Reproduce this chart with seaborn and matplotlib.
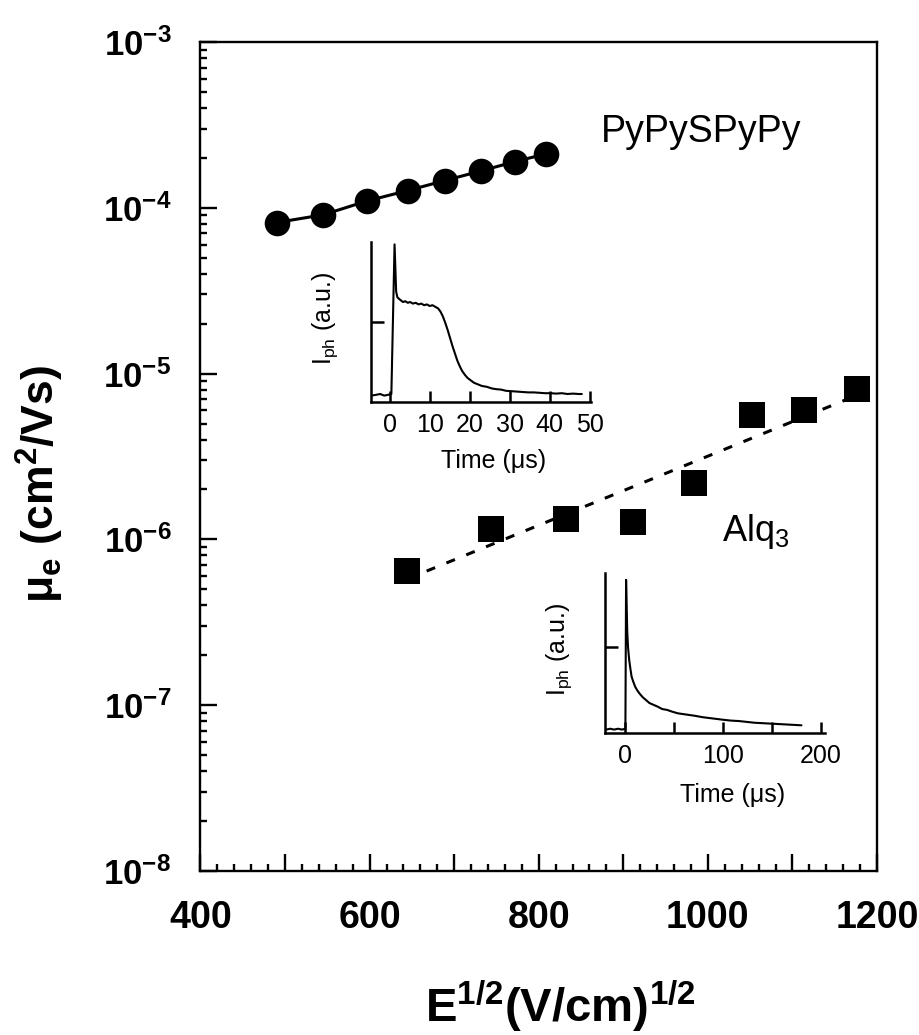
import numpy as np
import pandas as pd
import matplotlib
matplotlib.use("Agg")
import matplotlib.pyplot as plt
import seaborn as sns
from matplotlib.ticker import LogLocator, MultipleLocator, NullFormatter

# ---------------- data ----------------
# PyPySPyPy : mobility vs sqrt(E)
field_pypy = [490, 545, 597, 645, 689, 732, 772, 808]
mu_pypy = [8.15e-5, 9.07e-5, 1.10e-4, 1.27e-4, 1.46e-4, 1.67e-4, 1.90e-4, 2.11e-4]

# Alq3 : mobility vs sqrt(E)
field_alq = [644, 743, 832, 912, 984, 1052, 1114, 1176]
mu_alq = [6.49e-7, 1.16e-6, 1.33e-6, 1.28e-6, 2.20e-6, 5.62e-6, 6.0e-6, 8.07e-6]

# transient photocurrent, PyPySPyPy (inset 1)
t_pypy = [-4.7, -3.5, -2.5, -1.5, -0.5, 0.3, 1.1, 1.5, 1.8, 2.2,
          2.7, 3.2, 3.8, 4.4, 5.0, 5.7, 6.4, 7.1, 7.8, 8.5,
          9.2, 9.9, 10.6, 11.3, 12.0, 12.6, 13.2, 13.8, 14.4, 15.0,
          15.6, 16.2, 16.8, 17.4, 18.0, 18.7, 19.4, 20.2, 21.0, 22.0,
          23.0, 24.2, 25.4, 26.6, 27.8, 29.0, 30.4, 31.8, 33.2, 34.6,
          36.0, 37.4, 38.8, 40.2, 41.6, 43.0, 44.4, 45.8, 47.2, 48.0]
i_pypy = [0.08, 0.09, 0.10, 0.08, 0.09, 0.10, 1.97, 1.38, 1.31, 1.29,
          1.27, 1.25, 1.26, 1.24, 1.25, 1.23, 1.24, 1.22, 1.23, 1.21,
          1.22, 1.20, 1.21, 1.19, 1.17, 1.13, 1.07, 0.99, 0.90, 0.80,
          0.70, 0.61, 0.52, 0.45, 0.39, 0.34, 0.30, 0.27, 0.24, 0.22,
          0.20, 0.19, 0.17, 0.16, 0.155, 0.14, 0.135, 0.13, 0.125, 0.12,
          0.12, 0.115, 0.11, 0.11, 0.105, 0.11, 0.10, 0.105, 0.10, 0.10]

# transient photocurrent, Alq3 (inset 2)
t_alq = [-19, -15, -11, -7, -3, 0.5, 1.2, 2.4, 3.2, 4.4,
         5.6, 6.8, 8.5, 10.5, 12.5, 15, 18, 21, 25, 29,
         33, 38, 43, 48, 54, 60, 66, 72, 79, 86,
         93, 100, 108, 116, 124, 132, 140, 148, 156, 164,
         172, 180]
i_alq = [0.04, 0.05, 0.04, 0.05, 0.04, 0.05, 1.79, 1.18, 1.00, 0.85,
         0.75, 0.66, 0.60, 0.54, 0.50, 0.46, 0.42, 0.39, 0.35, 0.33,
         0.31, 0.28, 0.27, 0.25, 0.23, 0.22, 0.21, 0.20, 0.185, 0.175,
         0.165, 0.155, 0.145, 0.14, 0.13, 0.12, 0.115, 0.11, 0.105, 0.10,
         0.095, 0.09]

x_ticks = [400, 500, 600, 700, 800, 900, 1000, 1100, 1200]
x_ticklabels = ["400", "", "600", "", "800", "", "1000", "", "1200"]
y_ticks = [1e-8, 1e-7, 1e-6, 1e-5, 1e-4, 1e-3]
y_ticklabels = [r"$\mathbf{10^{-8}}$", r"$\mathbf{10^{-7}}$", r"$\mathbf{10^{-6}}$",
                r"$\mathbf{10^{-5}}$", r"$\mathbf{10^{-4}}$", r"$\mathbf{10^{-3}}$"]
# ----------------------------------------------------------

sns.set_style("ticks")
plt.rcParams["font.family"] = ["Liberation Sans", "DejaVu Sans"]
plt.rcParams["mathtext.fontset"] = "custom"
plt.rcParams["mathtext.rm"] = "Liberation Sans"
plt.rcParams["mathtext.it"] = "Liberation Sans:italic"
plt.rcParams["mathtext.bf"] = "Liberation Sans:bold"
for key in ("text.color", "axes.labelcolor", "xtick.color", "ytick.color", "axes.edgecolor"):
    plt.rcParams[key] = "k"

W, H = 920, 1035
fig = plt.figure(figsize=(W / 100, H / 100), dpi=100)

def px_axes(left, top, right, bottom):
    return fig.add_axes([left / W, 1 - bottom / H, (right - left) / W, (bottom - top) / H])

# ---- main plot ----
ax = px_axes(200.5, 42, 877, 871)
ax.set_yscale("log")

df_pypy = pd.DataFrame({"E": field_pypy, "mu": mu_pypy})
df_alq = pd.DataFrame({"E": field_alq, "mu": mu_alq})

sns.lineplot(data=df_pypy, x="E", y="mu", color="k", lw=2.2, ax=ax)
sns.scatterplot(data=df_pypy, x="E", y="mu", marker="o", s=340, color="k",
                linewidth=0, zorder=3, ax=ax)

# linear fit of log(mu) vs sqrt(E) for Alq3
k, b = np.polyfit(df_alq["E"], np.log10(df_alq["mu"]), 1)
fit = pd.DataFrame({"E": [df_alq["E"].min(), df_alq["E"].max()]})
fit["mu"] = 10 ** (k * fit["E"] + b)
sns.lineplot(data=fit, x="E", y="mu", color="k", lw=2.2, ax=ax)
ax.lines[-1].set_dashes((3, 4))
sns.scatterplot(data=df_alq, x="E", y="mu", marker="s", s=330, color="k",
                linewidth=0, zorder=3, ax=ax)

ax.set_xlim(400, 1200)
ax.set_ylim(1e-8, 1e-3)
ax.set_xticks(x_ticks, x_ticklabels, fontsize=27, fontweight="bold")
ax.xaxis.set_minor_locator(MultipleLocator(20))
ax.set_yticks(y_ticks, y_ticklabels, fontsize=25)
ax.yaxis.set_minor_locator(LogLocator(base=10, subs=np.arange(2, 10), numticks=30))
ax.yaxis.set_minor_formatter(NullFormatter())
ax.tick_params(which="both", direction="in", top=False, right=False, width=1.7, color="k")
ax.tick_params(which="major", length=12)
ax.tick_params(which="minor", length=5)
ax.tick_params(axis="x", which="major", pad=21)
ax.tick_params(axis="y", which="major", pad=21)
for s in ax.spines.values():
    s.set_linewidth(1.7)
    s.set_color("k")
ax.set_xlabel("")
ax.set_ylabel("")

ax.text(873, 2.5e-4, "PyPySPyPy", ha="left", va="baseline", fontsize=27)
ax.text(1017, 0.98e-6, r"Alq$_3$", ha="left", va="baseline", fontsize=26)

fig.text(40 / W, 1 - 484 / H, r"μ$_\mathbf{e}$ (cm$^\mathbf{2}$/Vs)", rotation=90,
         ha="center", va="center", fontsize=32, fontweight="bold")
fig.text(560 / W, 1 - 1006 / H, r"E$^\mathbf{1/2}$(V/cm)$^\mathbf{1/2}$",
         ha="center", va="center", fontsize=34, fontweight="bold")

# ---- insets ----
def style_inset(a, xlim, ylim, xt, xtl, lab_x, lab_y):
    a.set_xlim(*xlim)
    a.set_ylim(*ylim)
    a.set_facecolor("none")
    a.set_xticks(xt, xtl, fontsize=18)
    a.set_yticks([1], [""])
    a.spines["top"].set_visible(False)
    a.spines["right"].set_visible(False)
    for s in ("left", "bottom"):
        a.spines[s].set_linewidth(1.8)
        a.spines[s].set_color("k")
    a.tick_params(direction="in", length=8, width=1.8, pad=8, color="k")
    a.tick_params(axis="y", length=9)
    a.set_xlabel("")
    a.set_ylabel("")
    a.text(lab_x, lab_y, "Time (μs)", transform=a.transAxes, ha="center", va="center", fontsize=18)
    a.text(-0.21, 0.52, r"I$_\mathrm{ph}$ (a.u.)", transform=a.transAxes, rotation=90,
           ha="center", va="center", fontsize=18)

trace_kw = dict(color="k", lw=1.5)

ax1 = px_axes(371, 242, 591, 402)
sns.lineplot(x=t_pypy, y=i_pypy, ax=ax1, **trace_kw)
style_inset(ax1, (-4.8, 50.3), (0, 2.0), [0, 10, 20, 30, 40, 50],
            ["0", "10", "20", "30", "40", "50"], 0.555, -0.37)

ax2 = px_axes(605, 573, 825, 733)
sns.lineplot(x=t_alq, y=i_alq, ax=ax2, **trace_kw)
style_inset(ax2, (-20.3, 204), (0, 1.87), [0, 50, 100, 150, 200],
            ["0", "", "100", "", "200"], 0.58, -0.39)

fig.savefig("out.png", dpi=100)
